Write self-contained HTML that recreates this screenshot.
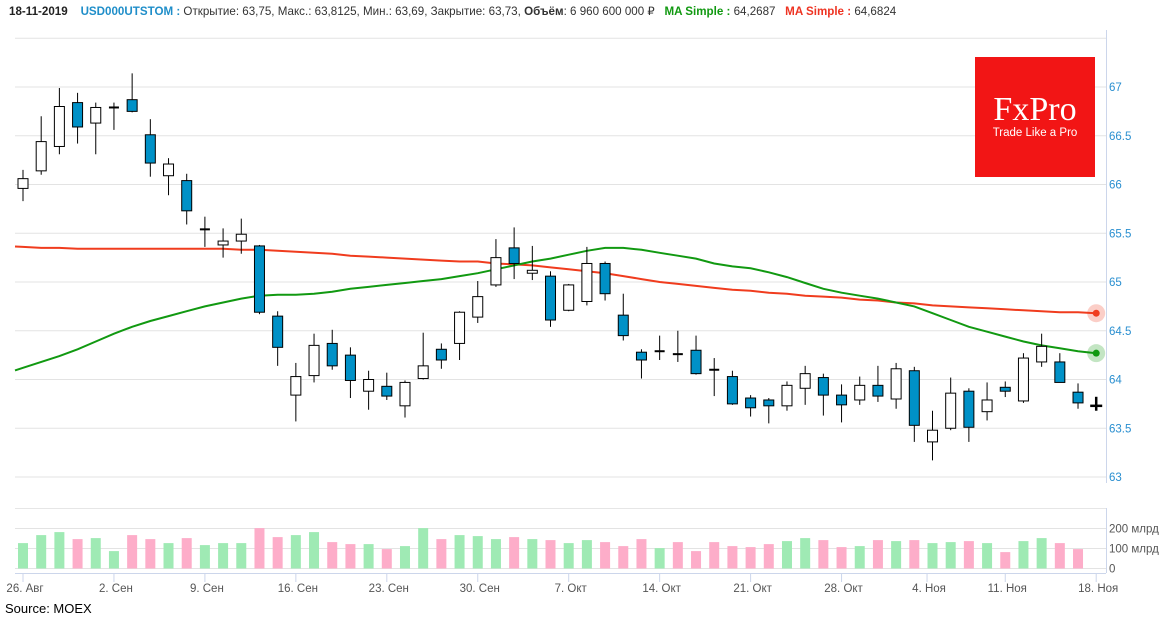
<!DOCTYPE html>
<html><head><meta charset="utf-8">
<style>
html,body{margin:0;padding:0;background:#fff;}
body{width:1170px;height:620px;overflow:hidden;position:relative;font-family:"Liberation Sans",Arial,sans-serif;}
#hdr{position:absolute;left:9px;top:4px;font-size:11.6px;color:#333;white-space:nowrap;}
#hdr b{font-weight:bold;}
#src{position:absolute;left:5px;top:601px;font-size:13px;color:#000;}
svg{position:absolute;left:0;top:0;}
</style></head><body>
<div id="hdr"><b style="color:#222">18-11-2019</b>&nbsp;&nbsp;&nbsp; <b style="color:#1f8ec9">USD000UTSTOM :</b> Открытие: 63,75, Макс.: 63,8125, Мин.: 63,69, Закрытие: 63,73, <b>Объём</b>: 6 960 600 000 ₽ &nbsp; <b style="color:#119911">MA Simple :</b> 64,2687 &nbsp; <b style="color:#ee3322">MA Simple :</b> 64,6824</div>
<svg id="chart" width="1170" height="620"></svg>
<div id="src">Source: MOEX</div>
<script>
const opens=[65.96,66.14,66.39,66.84,66.63,66.78,66.87,66.51,66.09,66.04,65.54,65.38,65.42,65.37,64.65,63.84,64.04,64.37,64.25,63.88,63.93,63.73,64.01,64.31,64.37,64.64,64.97,65.35,65.09,65.06,64.71,64.80,65.19,64.66,64.28,64.29,64.27,64.30,64.11,64.03,63.81,63.79,63.73,63.91,64.02,63.84,63.79,63.94,63.80,64.09,63.36,63.50,63.88,63.67,63.92,63.78,64.18,64.18,63.87,63.75];
const highs=[66.15,66.70,66.99,66.94,66.84,66.84,67.14,66.67,66.27,66.11,65.67,65.55,65.65,65.38,64.70,64.17,64.47,64.51,64.33,64.09,64.07,63.99,64.48,64.37,64.70,65.01,65.44,65.56,65.37,65.11,64.98,65.36,65.21,64.88,64.31,64.45,64.50,64.45,64.22,64.09,63.84,63.81,63.98,64.14,64.06,63.95,64.03,64.14,64.17,64.13,63.68,64.02,63.91,63.97,63.98,64.27,64.47,64.27,63.96,63.8125];
const lows=[65.83,66.10,66.31,66.42,66.31,66.56,66.74,66.08,65.89,65.59,65.36,65.25,65.29,64.67,64.14,63.57,63.97,64.10,63.81,63.69,63.79,63.61,64.00,64.11,64.20,64.58,64.95,65.03,65.02,64.54,64.70,64.76,64.81,64.40,64.01,64.20,64.18,64.05,63.83,63.74,63.62,63.55,63.68,63.74,63.63,63.56,63.74,63.77,63.70,63.36,63.17,63.48,63.36,63.58,63.82,63.76,64.13,63.97,63.70,63.69];
const closes=[66.06,66.44,66.80,66.59,66.79,66.79,66.75,66.22,66.21,65.73,65.54,65.42,65.49,64.69,64.33,64.03,64.35,64.14,63.99,64.00,63.83,63.97,64.14,64.20,64.69,64.85,65.25,65.19,65.12,64.61,64.97,65.19,64.88,64.45,64.20,64.29,64.26,64.06,64.10,63.75,63.71,63.73,63.94,64.06,63.84,63.74,63.94,63.83,64.11,63.53,63.48,63.86,63.51,63.79,63.88,64.22,64.34,63.97,63.76,63.73];
const volumes=[127,167,182,147,152,87,167,147,127,152,117,127,127,202,157,167,182,132,122,122,97,112,202,147,167,162,147,157,147,142,127,142,132,112,147,102,132,87,132,112,107,122,137,152,142,107,112,142,137,142,127,132,137,127,82,137,152,127,97];
const maFast=[64.12,64.18,64.24,64.31,64.39,64.47,64.54,64.60,64.65,64.70,64.75,64.79,64.83,64.86,64.87,64.87,64.88,64.90,64.93,64.95,64.97,64.99,65.01,65.03,65.06,65.09,65.13,65.17,65.21,65.24,65.28,65.32,65.35,65.35,65.33,65.30,65.27,65.24,65.19,65.16,65.14,65.10,65.05,64.99,64.93,64.89,64.86,64.83,64.79,64.75,64.68,64.61,64.54,64.49,64.44,64.39,64.35,64.32,64.29,64.27];
const maSlow=[65.36,65.35,65.35,65.34,65.34,65.34,65.34,65.34,65.34,65.34,65.34,65.34,65.33,65.33,65.32,65.31,65.30,65.29,65.27,65.26,65.25,65.24,65.23,65.22,65.21,65.21,65.19,65.18,65.17,65.15,65.13,65.11,65.09,65.06,65.03,65.00,64.98,64.96,64.94,64.92,64.91,64.89,64.88,64.86,64.85,64.84,64.82,64.81,64.79,64.78,64.76,64.75,64.74,64.73,64.72,64.71,64.70,64.69,64.69,64.68];
const priceTicks=[67,66.5,66,65.5,65,64.5,64,63.5,63];
const priceTickLabels=["67","66.5","66","65.5","65","64.5","64","63.5","63"];
const volTicks=[0,100,200];
const volTickLabels=["0","100 млрд","200 млрд"];
const dateTickIdx=[0,5,10,15,20,25,30,35,40,45,49.7,54,59];
const dateTickLabels=["26. Авг","2. Сен","9. Сен","16. Сен","23. Сен","30. Сен","7. Окт","14. Окт","21. Окт","28. Окт","4. Ноя","11. Ноя","18. Ноя"];

const NS="http://www.w3.org/2000/svg";
const svg=document.getElementById('chart');
const X=i=>23+i*18.19;
const Y=p=>87+(67-p)*97.5;
const VY=v=>568.5-v*0.2;
function mk(tag,attrs,parent){const e=document.createElementNS(NS,tag);for(const k in attrs)e.setAttribute(k,attrs[k]);(parent||svg).appendChild(e);return e;}

const grid=mk('g',{});


[67.5].concat(priceTicks).forEach(p=>{mk('line',{x1:15,x2:1106,y1:Y(p),y2:Y(p),stroke:'#e3e3e3','stroke-width':1},grid);});
const yax=mk('g',{});


mk('line',{x1:1106.5,x2:1106.5,y1:30,y2:483,stroke:'#ccd6eb'},yax);
priceTicks.forEach((p,k)=>{const t=mk('text',{x:1109,y:Y(p)+4,'font-size':11.5,fill:'#2a8fd0','font-family':'Liberation Sans, sans-serif'},yax);t.textContent=priceTickLabels[k];});

const logo=mk('g',{});


mk('rect',{x:975,y:57,width:120,height:120,fill:'#f21515'},logo);
const l1=mk('text',{x:1035,y:120,'font-size':34,fill:'#fff','text-anchor':'middle','font-family':'Liberation Serif, serif'},logo);l1.textContent='FxPro';
const l2=mk('text',{x:1035,y:136,'font-size':11.5,fill:'#fff','text-anchor':'middle','font-family':'Liberation Sans, sans-serif'},logo);l2.textContent='Trade Like a Pro';

function maPath(arr,color,name,halo){
  let d='M15,'+Y(arr[0]+(arr[0]-arr[1])*0.45).toFixed(1);
  arr.forEach((v,i)=>{d+=' L'+X(i).toFixed(1)+','+Y(v).toFixed(1);});
  const p=mk('path',{d:d,fill:'none',stroke:color,'stroke-width':2});
  
  
  const n=arr.length-1;
  const h=mk('circle',{cx:X(n),cy:Y(arr[n]),r:9,fill:halo});
  
  
  mk('circle',{cx:X(n),cy:Y(arr[n]),r:3.5,fill:color});
}
maPath(maSlow,'#f03c1e','ma-slow-line','rgba(240,60,30,0.25)');
maPath(maFast,'#119911','ma-fast-line','rgba(17,153,17,0.25)');

opens.forEach((o,i)=>{
  const c=closes[i],x=X(i);
  const g=mk('g',{});
  
  
  if(i===opens.length-1){
    mk('line',{x1:x,x2:x,y1:Y(highs[i])-1,y2:Y(lows[i])+1,stroke:'#000','stroke-width':2.5},g);
    mk('line',{x1:x-6,x2:x+6,y1:Y(c),y2:Y(c),stroke:'#000','stroke-width':2.5},g);
    return;
  }
  mk('line',{x1:x,x2:x,y1:Y(highs[i]),y2:Y(lows[i]),stroke:'#000','stroke-width':1},g);
  const top=Y(Math.max(o,c)),bot=Y(Math.min(o,c));
  const h=bot-top;
  if(h<2){mk('line',{x1:x-5,x2:x+5,y1:Y(c),y2:Y(c),stroke:'#000','stroke-width':2},g);}
  else mk('rect',{x:x-5,y:top,width:10,height:h,fill:c>=o?'#fff':'#0091c7',stroke:'#000','stroke-width':1},g);
});

const vg=mk('g',{});


mk('line',{x1:15,x2:1106,y1:508.5,y2:508.5,stroke:'#e6e6e6'},vg);
volTicks.forEach((v,k)=>{mk('line',{x1:15,x2:1106,y1:VY(v),y2:VY(v),stroke:'#e3e3e3'},vg);
  const t=mk('text',{x:1109,y:VY(v)+4,'font-size':11.5,fill:'#555','font-family':'Liberation Sans, sans-serif'},vg);t.textContent=volTickLabels[k];});
mk('line',{x1:1106.5,x2:1106.5,y1:508,y2:573,stroke:'#ccd6eb'},vg);
volumes.forEach((v,i)=>{
  const r=mk('rect',{x:X(i)-5,y:VY(v),width:10,height:VY(0)-VY(v),fill:closes[i]>=opens[i]?'#9feab4':'#fdadc9'},vg);
  
  
});

const xg=mk('g',{});


mk('line',{x1:15,x2:1106,y1:573.5,y2:573.5,stroke:'#ccd6eb'},xg);
dateTickIdx.forEach((d,k)=>{const x=X(d);
  mk('line',{x1:x,x2:x,y1:573,y2:582,stroke:'#ccd6eb'},xg);
  const t=mk('text',{x:x+2,y:592,'font-size':11.5,fill:'#555','text-anchor':'middle','font-family':'Liberation Sans, sans-serif'},xg);
  t.textContent=dateTickLabels[k];
  
  
});
</script>
</body></html>
